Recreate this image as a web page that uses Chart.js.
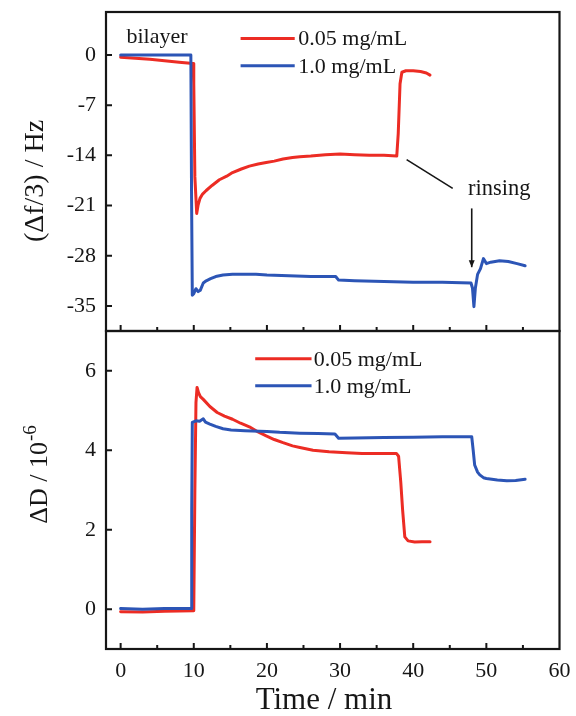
<!DOCTYPE html>
<html>
<head>
<meta charset="utf-8">
<title>QCM-D bilayer response</title>
<script src="https://cdn.jsdelivr.net/npm/chart.js@4.4.1/dist/chart.umd.min.js"></script>
<style>
  html, body { margin: 0; padding: 0; background: #ffffff; }
  #wrap { position: relative; width: 576px; height: 716px; background: #ffffff; }
  #wrap canvas { position: absolute; left: 0; top: 0; }
</style>
</head>
<body>
<div id="wrap">
  <canvas id="freqChart" width="576" height="716"></canvas>
  <canvas id="dissChart" width="576" height="716"></canvas>
</div>
<script>
// ---- Series labels and tick values ----
const seriesLabels = ['0.05 mg/mL', '1.0 mg/mL'];
const xTicks = [0, 10, 20, 30, 40, 50, 60];
const freqTicks = [0, -7, -14, -21, -28, -35];
const dissTicks = [0, 2, 4, 6];

// ---- Frequency shift Δf/3 (Hz), 0.05 mg/mL ----
const tFreqLow = [0, 2, 4, 6, 8, 9.9, 10.0, 10.15, 10.4, 10.6, 10.85, 11.2, 11.7, 12.5, 13.5, 14.5, 15.3, 16.5, 17.6, 18.8,
  19.9, 21, 22.2, 23.5, 24.5, 26, 28, 30, 32, 34, 36, 37.75, 37.95, 38.2, 38.45, 39.0, 40.0, 41.0, 41.8, 42.3];
const freqLow = [-0.3, -0.45, -0.6, -0.8, -1.0, -1.2, -4.0, -17.0, -22.1, -20.9, -20.0, -19.4, -18.9, -18.2, -17.4, -16.9, -16.4, -15.9, -15.5, -15.2,
  -15.0, -14.8, -14.5, -14.3, -14.2, -14.1, -13.9, -13.8, -13.9, -14.0, -14.0, -14.1, -11.0, -4.0, -2.4, -2.2, -2.2, -2.3, -2.5, -2.8];

// ---- Frequency shift Δf/3 (Hz), 1.0 mg/mL ----
const tFreqHigh = [0, 3, 6, 9.6, 9.7, 9.8, 10.0, 10.3, 10.6, 10.9, 11.3, 11.7, 12.3, 13, 14, 15.3, 17, 18.5, 20, 23,
  26, 29.4, 29.8, 32, 36, 40, 44, 47.9, 48.1, 48.3, 48.5, 48.8, 49.2, 49.6, 50.0, 50.6, 51.8, 53, 54.2, 55.3];
const freqHigh = [0, 0, 0, 0, -20.0, -33.5, -33.3, -32.6, -33.0, -32.8, -31.8, -31.5, -31.2, -30.9, -30.7, -30.6, -30.6, -30.6, -30.7, -30.8,
  -30.9, -30.9, -31.4, -31.5, -31.6, -31.7, -31.7, -31.8, -32.5, -35.1, -32.5, -30.6, -29.8, -28.4, -29.1, -28.9, -28.7, -28.8, -29.1, -29.4];

// ---- Dissipation shift ΔD (10^-6), 0.05 mg/mL ----
const tDissLow = [0, 3, 6, 10.0, 10.15, 10.3, 10.45, 10.65, 10.9, 11.3, 12.2, 13.2, 14.2, 15.3, 16.4, 17.6, 18.8, 19.9, 21, 22.2,
  23.5, 24.5, 26.3, 28.5, 30.9, 33, 35.5, 37.7, 38.0, 38.3, 38.55, 38.85, 39.3, 40.2, 41.2, 42.3];
const dissLow = [-0.06, -0.07, -0.05, -0.04, 3.0, 5.2, 5.58, 5.45, 5.35, 5.28, 5.1, 4.95, 4.86, 4.78, 4.68, 4.59, 4.46, 4.36, 4.27, 4.19,
  4.11, 4.07, 4.0, 3.96, 3.94, 3.92, 3.92, 3.92, 3.85, 3.2, 2.5, 1.82, 1.72, 1.69, 1.70, 1.70];

// ---- Dissipation shift ΔD (10^-6), 1.0 mg/mL ----
const tDissHigh = [0, 3, 6, 9.65, 9.72, 9.8, 10.3, 10.8, 11.3, 11.6, 12.2, 13, 14, 15.1, 17, 20, 21.75, 24.5, 27, 29.3,
  29.8, 32, 36, 40, 44, 48.0, 48.2, 48.4, 48.8, 49.1, 49.6, 50.0, 51.5, 52.8, 54, 55.3];
const dissHigh = [0.02, 0.0, 0.02, 0.02, 2.5, 4.70, 4.74, 4.73, 4.79, 4.71, 4.66, 4.6, 4.54, 4.51, 4.49, 4.47, 4.45, 4.43, 4.42, 4.41,
  4.30, 4.31, 4.32, 4.33, 4.34, 4.34, 4.0, 3.63, 3.45, 3.38, 3.31, 3.29, 3.25, 3.23, 3.24, 3.27];

// ---- Styling ----
const RED = '#ec2c24';
const BLUE = '#2c55b6';
const INK = '#161616';
const SERIF = "'Liberation Serif', 'Times New Roman', serif";

function points(ts, vs) {
  return ts.map((t, i) => ({ x: t, y: vs[i] }));
}

function lineDataset(label, ts, vs, color, order) {
  return {
    label: label,
    data: points(ts, vs),
    borderColor: color,
    backgroundColor: color,
    borderWidth: 3,
    pointRadius: 0,
    tension: 0,
    fill: false,
    order: order,
    borderJoinStyle: 'round',
    borderCapStyle: 'round'
  };
}

// Frame, inward tick marks, legend, annotations and axis titles
const decorations = {
  id: 'decorations',
  afterDraw(chart, args, opts) {
    const ctx = chart.ctx;
    const area = chart.chartArea;
    const xs = chart.scales.x;
    const ys = chart.scales.y;
    ctx.save();

    // tick marks pointing into the plot
    ctx.strokeStyle = INK;
    ctx.lineWidth = 2;
    ctx.beginPath();
    for (let v = 0; v <= 55; v += 5) {
      const px = xs.getPixelForValue(v);
      const len = v % 10 === 0 ? 6 : 4;
      ctx.moveTo(px, area.bottom);
      ctx.lineTo(px, area.bottom - len);
    }
    ys.ticks.forEach(t => {
      const py = ys.getPixelForValue(t.value);
      ctx.moveTo(area.left, py);
      ctx.lineTo(area.left + 6, py);
    });
    ctx.stroke();

    // frame
    ctx.lineWidth = 2.2;
    ctx.strokeRect(area.left, area.top, area.right - area.left, area.bottom - area.top);

    // legend
    const lg = opts.legend;
    if (lg) {
      const x0 = xs.getPixelForValue(lg.x0);
      const x1 = xs.getPixelForValue(lg.x1);
      const tx = xs.getPixelForValue(lg.textX);
      ctx.font = '22px ' + SERIF;
      ctx.textAlign = 'left';
      ctx.textBaseline = 'middle';
      chart.data.datasets
        .slice()
        .sort((a, b) => seriesLabels.indexOf(a.label) - seriesLabels.indexOf(b.label))
        .forEach((ds, i) => {
          const py = ys.getPixelForValue(lg.rows[i]);
          ctx.strokeStyle = ds.borderColor;
          ctx.lineWidth = 3;
          ctx.beginPath();
          ctx.moveTo(x0, py);
          ctx.lineTo(x1, py);
          ctx.stroke();
          ctx.fillStyle = INK;
          ctx.fillText(ds.label, tx, py + 1);
        });
    }

    // leader lines and arrows
    (opts.leaders || []).forEach(l => {
      const ax = xs.getPixelForValue(l.x1), ay = ys.getPixelForValue(l.y1);
      const bx = xs.getPixelForValue(l.x2), by = ys.getPixelForValue(l.y2);
      ctx.strokeStyle = INK;
      ctx.fillStyle = INK;
      ctx.lineWidth = 1.6;
      ctx.beginPath();
      ctx.moveTo(ax, ay);
      ctx.lineTo(bx, by);
      ctx.stroke();
      if (l.arrow) {
        const ang = Math.atan2(by - ay, bx - ax);
        const hl = 7, hw = 3;
        ctx.beginPath();
        ctx.moveTo(bx, by);
        ctx.lineTo(bx - hl * Math.cos(ang) + hw * Math.sin(ang), by - hl * Math.sin(ang) - hw * Math.cos(ang));
        ctx.lineTo(bx - hl * Math.cos(ang) - hw * Math.sin(ang), by - hl * Math.sin(ang) + hw * Math.cos(ang));
        ctx.closePath();
        ctx.fill();
      }
    });

    // free text notes
    (opts.notes || []).forEach(n => {
      ctx.font = n.size + 'px ' + SERIF;
      ctx.fillStyle = INK;
      ctx.textAlign = 'left';
      ctx.textBaseline = 'alphabetic';
      ctx.fillText(n.text, xs.getPixelForValue(n.x), ys.getPixelForValue(n.y));
    });

    // rotated y-axis title (with optional superscript)
    const yt = opts.yTitle;
    if (yt) {
      ctx.save();
      ctx.translate(yt.baseX, yt.centerY);
      ctx.rotate(-Math.PI / 2);
      ctx.fillStyle = INK;
      ctx.textBaseline = 'alphabetic';
      ctx.textAlign = 'left';
      ctx.font = yt.size + 'px ' + SERIF;
      const mainW = ctx.measureText(yt.text).width;
      let supW = 0;
      if (yt.sup) {
        ctx.font = yt.supSize + 'px ' + SERIF;
        supW = ctx.measureText(yt.sup).width;
      }
      const start = -(mainW + supW) / 2;
      ctx.font = yt.size + 'px ' + SERIF;
      ctx.fillText(yt.text, start, 0);
      if (yt.sup) {
        ctx.font = yt.supSize + 'px ' + SERIF;
        ctx.fillText(yt.sup, start + mainW + 1, -yt.size * 0.42);
      }
      ctx.restore();
    }

    // x-axis title
    const xt = opts.xTitle;
    if (xt) {
      ctx.font = xt.size + 'px ' + SERIF;
      ctx.fillStyle = INK;
      ctx.textAlign = 'center';
      ctx.textBaseline = 'alphabetic';
      ctx.fillText(xt.text, xt.centerX, xt.baseY);
    }
    ctx.restore();
  }
};

function buildChart(canvasId, cfg) {
  return new Chart(document.getElementById(canvasId), {
    type: 'line',
    data: { datasets: cfg.datasets },
    options: {
      responsive: false,
      animation: false,
      devicePixelRatio: 1,
      events: [],
      layout: { padding: cfg.padding },
      plugins: {
        legend: { display: false },
        tooltip: { enabled: false },
        decorations: cfg.decor
      },
      scales: {
        x: {
          type: 'linear',
          min: -2,
          max: 60,
          afterBuildTicks: s => { s.ticks = xTicks.map(v => ({ value: v })); },
          afterFit: s => { s.height = cfg.xAxisHeight; s.paddingLeft = 0; s.paddingRight = 0; },
          grid: { display: false, drawTicks: false },
          border: { display: false },
          ticks: {
            display: cfg.showXLabels,
            autoSkip: false,
            maxRotation: 0,
            padding: 9,
            color: INK,
            font: { family: SERIF, size: 22 },
            callback: v => String(v)
          }
        },
        y: {
          type: 'linear',
          min: cfg.yMin,
          max: cfg.yMax,
          afterBuildTicks: s => { s.ticks = cfg.yTicks.map(v => ({ value: v })); },
          afterFit: s => { s.width = 106; s.paddingTop = 0; s.paddingBottom = 0; },
          grid: { display: false, drawTicks: false },
          border: { display: false },
          ticks: {
            padding: 10,
            color: INK,
            font: { family: SERIF, size: 22 },
            callback: v => String(v)
          }
        }
      }
    },
    plugins: [decorations]
  });
}

// Upper panel: frequency shift
buildChart('freqChart', {
  datasets: [
    lineDataset(seriesLabels[0], tFreqLow, freqLow, RED, 1),
    lineDataset(seriesLabels[1], tFreqHigh, freqHigh, BLUE, 0)
  ],
  padding: { left: 0, top: 12, right: 16.5, bottom: 385 },
  xAxisHeight: 0,
  showXLabels: false,
  yMin: -38.5,
  yMax: 6,
  yTicks: freqTicks,
  decor: {
    legend: { x0: 16.4, x1: 23.8, textX: 24.3, rows: [2.3, -1.5] },
    leaders: [
      { x1: 39.1, y1: -14.6, x2: 45.4, y2: -18.6, arrow: false },
      { x1: 48.0, y1: -21.4, x2: 48.0, y2: -29.6, arrow: true }
    ],
    notes: [
      { text: 'bilayer', x: 0.8, y: 1.7, size: 22 },
      { text: 'rinsing', x: 47.5, y: -19.5, size: 22.5 }
    ],
    yTitle: { text: '(\u0394f/3) / Hz', baseX: 43, centerY: 181, size: 28 }
  }
});

// Lower panel: dissipation shift
buildChart('dissChart', {
  datasets: [
    lineDataset(seriesLabels[0], tDissLow, dissLow, RED, 1),
    lineDataset(seriesLabels[1], tDissHigh, dissHigh, BLUE, 0)
  ],
  padding: { left: 0, top: 331, right: 16.5, bottom: 0 },
  xAxisHeight: 67,
  showXLabels: true,
  yMin: -1,
  yMax: 7,
  yTicks: dissTicks,
  decor: {
    legend: { x0: 18.4, x1: 26.1, textX: 26.4, rows: [6.3, 5.62] },
    yTitle: { text: '\u0394D / 10', sup: '-6', supSize: 19, baseX: 47, centerY: 475, size: 26 },
    xTitle: { text: 'Time / min', size: 31, centerX: 324, baseY: 709 }
  }
});
</script>
</body>
</html>
